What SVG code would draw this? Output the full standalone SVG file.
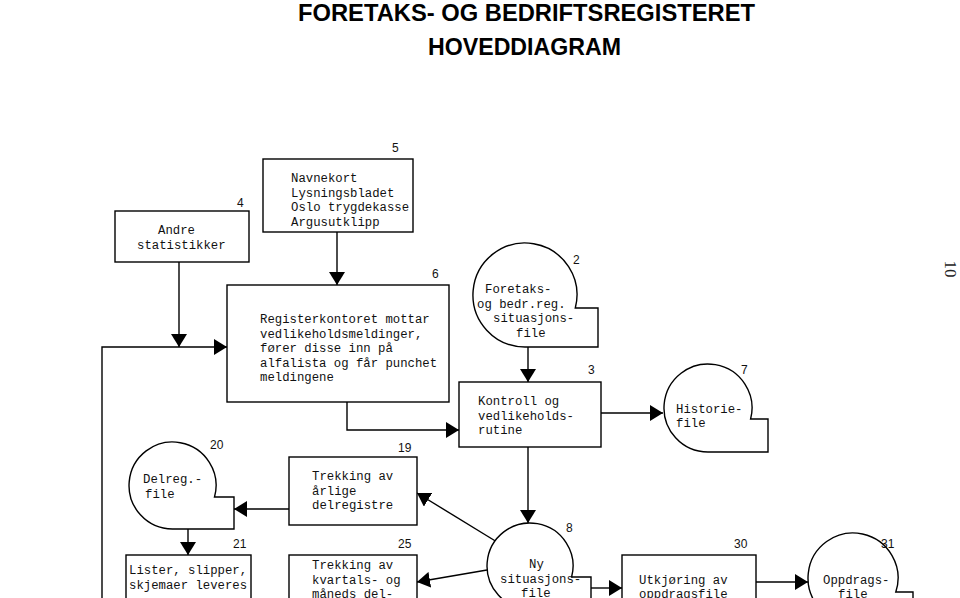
<svg xmlns="http://www.w3.org/2000/svg" width="960" height="598" viewBox="0 0 960 598">
<defs>
<marker id="ah" markerUnits="userSpaceOnUse" markerWidth="16" markerHeight="16" refX="13" refY="8" orient="auto">
<path d="M0,0 L13,8 L0,16 Z" fill="#000"/>
</marker>
</defs>
<style>
.b{fill:#fff;stroke:#000;stroke-width:1.4}
.c{fill:none;stroke:#000;stroke-width:1.4;marker-end:url(#ah)}
.t{font-family:"Liberation Mono",monospace;font-size:12.3px;fill:#111}
.n{font-family:"Liberation Sans",Arial,sans-serif;font-size:12px;fill:#111}
.h{font-family:"Liberation Sans",Arial,sans-serif;font-size:24px;font-weight:bold;fill:#000}
</style>
<rect width="960" height="598" fill="#fff"/>
<text class="h" x="298" y="21" textLength="457" lengthAdjust="spacingAndGlyphs">FORETAKS- OG BEDRIFTSREGISTERET</text>
<text class="h" x="428" y="55" textLength="193" lengthAdjust="spacingAndGlyphs">HOVEDDIAGRAM</text>
<text x="945" y="269" transform="rotate(90 945 269)" text-anchor="middle" style="font-family:'Liberation Serif',serif;font-size:17px;fill:#222">10</text>

<g id="connectors">
<path class="c" d="M179,262 V347"/>
<path class="c" d="M337,232 V285"/>
<path class="c" d="M102,600 V347 H227"/>
<path class="c" d="M347,402 V430 H459"/>
<path class="c" d="M528,347 V382"/>
<path class="c" d="M601,413 H663"/>
<path class="c" d="M528,447 V523"/>
<path class="c" d="M497,542 L417,493"/>
<path class="c" d="M487,570 L417,582"/>
<path class="c" d="M289,509 H234"/>
<path class="c" d="M188,529 V555"/>
<path class="c" d="M591,588 H622"/>
<path class="c" d="M756,582 H808"/>
</g>

<g id="node4">
<rect class="b" x="115" y="211" width="134" height="51"/>
<text class="n" x="237" y="207">4</text>
<text class="t" x="158" y="234">Andre</text>
<text class="t" x="137" y="249">statistikker</text>
</g>

<g id="node5">
<rect class="b" x="263" y="159" width="150" height="73"/>
<text class="n" x="392" y="152">5</text>
<text class="t" x="291" y="182">Navnekort</text>
<text class="t" x="291" y="196.5">Lysningsbladet</text>
<text class="t" x="291" y="211">Oslo trygdekasse</text>
<text class="t" x="291" y="225.5">Argusutklipp</text>
</g>

<g id="node6">
<rect class="b" x="227" y="285" width="222" height="117"/>
<text class="n" x="432" y="278">6</text>
<text class="t" x="260" y="323">Registerkontoret mottar</text>
<text class="t" x="260" y="337.5">vedlikeholdsmeldinger,</text>
<text class="t" x="260" y="352">fører disse inn på</text>
<text class="t" x="260" y="366.5">alfalista og får punchet</text>
<text class="t" x="260" y="381">meldingene</text>
</g>

<g id="node2">
<path class="b" d="M525,347 A52,52 0 1 1 575.3,308 H598 V347 Z"/>
<text class="n" x="573" y="264">2</text>
<text class="t" x="485" y="293">Foretaks-</text>
<text class="t" x="477" y="308">og bedr.reg.</text>
<text class="t" x="493" y="322">situasjons-</text>
<text class="t" x="516" y="337">file</text>
</g>

<g id="node3">
<rect class="b" x="459" y="382" width="142" height="65"/>
<text class="n" x="588" y="374">3</text>
<text class="t" x="478" y="405">Kontroll og</text>
<text class="t" x="478" y="419.5">vedlikeholds-</text>
<text class="t" x="478" y="434">rutine</text>
</g>

<g id="node7">
<path class="b" d="M708,452 A44,44 0 1 1 750.6,419 H768 V452 Z"/>
<text class="n" x="741" y="374">7</text>
<text class="t" x="676" y="413">Historie-</text>
<text class="t" x="676" y="427">file</text>
</g>

<g id="node20">
<path class="b" d="M172.5,529 A43.5,43.5 0 1 1 214.5,497 H234 V529 Z"/>
<text class="n" x="210" y="449">20</text>
<text class="t" x="143" y="483">Delreg.-</text>
<text class="t" x="145" y="498">file</text>
</g>

<g id="node19">
<rect class="b" x="289" y="457" width="128" height="68"/>
<text class="n" x="398" y="452">19</text>
<text class="t" x="312" y="480">Trekking av</text>
<text class="t" x="312" y="494.5">årlige</text>
<text class="t" x="312" y="509">delregistre</text>
</g>

<g id="node21">
<rect class="b" x="126" y="555" width="125" height="70"/>
<text class="n" x="233" y="548">21</text>
<text class="t" x="129" y="574">Lister, slipper,</text>
<text class="t" x="129" y="589">skjemaer leveres</text>
</g>

<g id="node25">
<rect class="b" x="289" y="555" width="128" height="70"/>
<text class="n" x="398" y="548">25</text>
<text class="t" x="312" y="569">Trekking av</text>
<text class="t" x="312" y="583.5">kvartals- og</text>
<text class="t" x="312" y="598">måneds del-</text>
</g>

<g id="node8">
<path class="b" d="M530,609 A43,43 0 1 1 571.6,577 H591 V609 Z"/>
<text class="n" x="566" y="532">8</text>
<text class="t" x="529" y="568">Ny</text>
<text class="t" x="500" y="583">situasjons-</text>
<text class="t" x="521" y="597">file</text>
</g>

<g id="node30">
<rect class="b" x="622" y="555" width="134" height="70"/>
<text class="n" x="734" y="548">30</text>
<text class="t" x="639" y="584">Utkjøring av</text>
<text class="t" x="639" y="598">oppdragsfile</text>
</g>

<g id="node31">
<path class="b" d="M853,623 A45,45 0 1 1 895.8,592 H913 V623 Z"/>
<text class="n" x="881" y="548">31</text>
<text class="t" x="823" y="584">Oppdrags-</text>
<text class="t" x="838" y="598">file</text>
</g>
</svg>
